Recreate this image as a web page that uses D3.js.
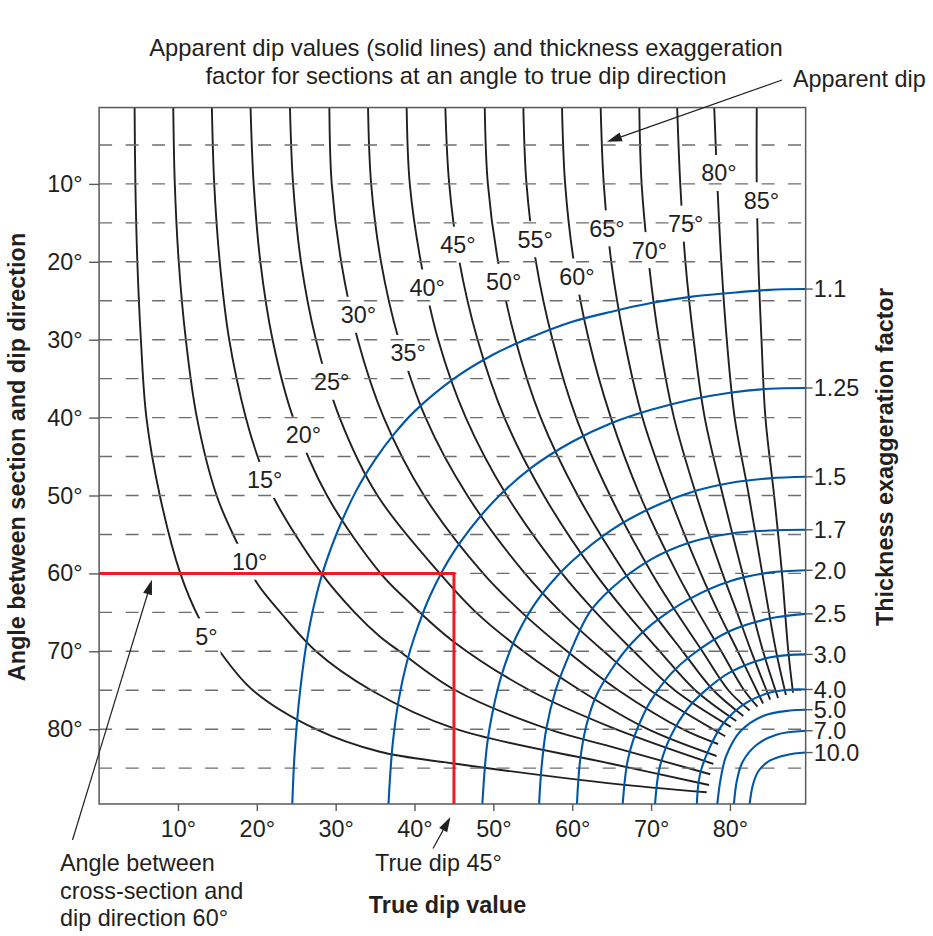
<!DOCTYPE html>
<html>
<head>
<meta charset="utf-8">
<script src="https://cdn.jsdelivr.net/npm/d3@7"></script>
<style>
  body { margin: 0; background: #ffffff; }
  svg { display: block; }
</style>
</head>
<body>
<svg id="chart" width="933" height="936"></svg>
<script>
// ---------------- DATA ----------------
// Axis tick values (degrees)
const angleTicks = [10, 20, 30, 40, 50, 60, 70, 80];
// Dashed guide levels of the section angle (degrees)
const dashLevels = [5, 10, 15, 20, 25, 30, 35, 40, 45, 50, 55, 60, 65, 70, 75, 80, 85];

// Apparent dip values (black curves)
const apparentDips = [5, 10, 15, 20, 25, 30, 35, 40, 45, 50, 55, 60, 65, 70, 75, 80, 85];
// Each curve: [angle between section and dip direction, true dip]
const dip5  = [[0,4.5],[10,4.6],[20,4.85],[30,5.3],[40,6.0],[50,7.7],[60,10.3],[66,12.8],[70,15.3],[75,19.5],[80,27.5],[82.9,35.6],[84.4,45],[86.95,64.8],[88.1,77.05]];
const dip10 = [[0,9.4],[10,9.6],[20,10.1],[30,11.0],[40,12.4],[50,14.9],[56.1,17.5],[61.2,20.0],[65,23.0],[70,27.5],[75,34.5],[79.9,45],[84.4,64.8],[87.16,77.35]];
const dip15 = [[0,14.3],[10,14.6],[20,15.3],[30,16.5],[40,18.6],[45,20.1],[50,22.0],[60,28.2],[65,32.4],[68.1,35.6],[70,38.1],[74.9,45],[80,57],[82.2,64.8],[85.78,77.5]];
const dip20 = [[0,19.2],[10,19.6],[20,20.45],[30,22.0],[40,24.6],[50,28.9],[60,35.7],[63.4,39.0],[68.8,45],[75,54.6],[79.7,64.8],[84.46,77.9]];
const dip25 = [[0,24.2],[10,24.6],[20,25.6],[30,27.5],[40,30.5],[50,35.3],[60,43.2],[65,47.8],[70,53.8],[75,61.0],[80,69.6],[83.44,78.3]];
const dip30 = [[0,29.2],[10,29.5],[20,30.7],[30,32.8],[40,36.1],[50,41.2],[60,48.7],[65,53.6],[70,59.35],[75,65.85],[80,74.0],[81.9,78.5]];
const dip35 = [[0,34.1],[10,34.5],[20,35.75],[30,38.0],[40,41.4],[50,46.7],[60,54.0],[65,58.6],[70,64.0],[75,69.9],[80.9,79.4]];
const dip40 = [[0,39.0],[10,39.4],[20,40.8],[30,43.0],[40,46.5],[50,51.7],[60,58.7],[65,63.0],[70,67.8],[75,73.0],[79.7,80.1]];
const dip45 = [[0,43.9],[10,44.4],[20,45.7],[30,48.0],[40,51.4],[50,56.4],[60,62.9],[65,66.8],[70,71.1],[75,75.6],[78.95,80.8]];
const dip50 = [[0,48.9],[10,49.3],[20,50.6],[30,52.8],[40,56.0],[50,60.7],[60,66.7],[65,70.2],[70,74.0],[75,77.9],[78.3,81.7]];
const dip55 = [[0,53.8],[10,54.2],[20,55.4],[30,57.5],[40,60.5],[50,64.8],[60,70.1],[65,73.2],[70,76.5],[75,79.8],[77.6,82.5]];
const dip60 = [[0,58.7],[10,59.1],[20,60.2],[30,62.1],[40,64.9],[50,68.6],[60,73.3],[65,76.0],[70,78.9],[75,81.8],[77.1,83.5]];
const dip65 = [[0,63.6],[10,64.0],[20,64.95],[30,66.6],[40,68.9],[50,72.3],[60,76.3],[65,78.55],[70,81.0],[76.7,84.2]];
const dip70 = [[0,68.5],[10,68.8],[20,69.7],[30,71.0],[40,72.9],[50,75.75],[60,79.05],[65,80.9],[70,82.7],[76.2,85.1]];
const dip75 = [[0,73.3],[10,73.7],[20,74.35],[30,75.4],[40,76.8],[50,79.1],[60,81.6],[70,84.2],[76.0,86.1]];
const dip80 = [[0,78.0],[10,78.4],[20,78.9],[30,79.6],[40,80.6],[50,82.4],[60,84.1],[70,85.85],[75.6,87.1]];
const dip85 = [[0,83.4],[10,83.4],[20,83.6],[30,84.0],[40,84.5],[50,85.6],[60,86.6],[70,87.4],[75.3,88.0]];
const apparentDipCurves = [dip5, dip10, dip15, dip20, dip25, dip30, dip35, dip40, dip45,
                           dip50, dip55, dip60, dip65, dip70, dip75, dip80, dip85];
// Where each apparent-dip label sits on its curve: [section angle, true dip]
const apparentDipLabelAt = [[68.1,13.6],[58.5,19.1],[48.0,21.0],[42.2,25.9],[35.4,29.5],[26.8,32.9],
                            [31.7,39.2],[23.3,41.6],[17.8,45.5],[22.6,51.3],[17.1,55.3],[21.9,60.6],
                            [15.7,64.4],[18.5,69.8],[15.1,74.4],[8.6,78.6],[12.1,84.0]];

// Thickness exaggeration factor (blue curves)
const factorLabels = ["1.1", "1.25", "1.5", "1.7", "2.0", "2.5", "3.0", "4.0", "5.0", "7.0", "10.0"];
// Each curve: [true dip, section angle]
const f1_1  = [[24.5,89.6],[24.8,83],[25.5,75],[26.5,67.8],[28,61.1],[30,55.2],[32.5,49.6],[35,45.4],[37.5,42.0],[40,39.2],[45,35.0],[50,31.9],[55,29.6],[60,27.7],[65,26.4],[70,25.3],[75,24.5],[80,24.0],[85,23.6],[89.6,23.5]];
const f1_25 = [[36.7,89.6],[37.2,82.2],[38,76.2],[39,71.5],[40,68.1],[42,62.8],[45,57.2],[50,50.8],[55,46.3],[60,43.1],[65,40.7],[70,39.0],[75,37.7],[80,36.8],[85,36.3],[89.6,36.2]];
const f1_5  = [[48.6,89.6],[49.2,82],[50,77.3],[51,73.2],[52.5,69.0],[55,64.3],[57.5,61.0],[60,58.4],[65,54.4],[70,51.6],[75,49.6],[80,48.4],[85,47.8],[89.6,47.6]];
const f1_7  = [[55.8,89.6],[56.1,85],[56.7,80],[57.9,75],[59.8,70],[62.2,65.0],[65,61.9],[70,58.2],[75,56.0],[80,54.9],[85,54.5],[89.6,54.4]];
const f2_0  = [[60.6,89.6],[61.0,84],[61.8,79.5],[63,75.8],[65,72.3],[67.5,69.0],[70,66.6],[75,63.2],[80,61.0],[85,59.9],[89.6,59.6]];
const f2_5  = [[66.4,89.6],[67,84.2],[68,80.6],[69,78.2],[70,76.3],[72.5,72.9],[75,70.6],[80,67.4],[85,65.8],[89.6,65.2]];
const f3_0  = [[70.5,89.6],[71,85.3],[72,82.0],[73,79.9],[75,76.9],[77.5,74.5],[80,72.7],[85,70.8],[89.6,70.4]];
const f4_0  = [[75.8,89.6],[76.2,85.8],[77.5,82.2],[79.2,79.2],[82.1,76.6],[85.1,75.3],[88,74.9],[89.6,74.9]];
const f5_0  = [[78.4,89.6],[78.8,86.5],[79.5,83.5],[81.3,80.3],[84.2,78.3],[87.6,77.6],[89.6,77.5]];
const f7_0  = [[80.5,89.6],[80.9,86.5],[81.6,84.2],[83.4,82.0],[85.9,80.7],[89.6,80.2]];
const f10_0 = [[82.5,89.6],[82.9,87.2],[83.6,85.4],[85.1,84.0],[87.2,83.3],[89.6,83.0]];
const factorCurves = [f1_1, f1_25, f1_5, f1_7, f2_0, f2_5, f3_0, f4_0, f5_0, f7_0, f10_0];

// Worked example: true dip 45°, section at 60° to dip direction
const exampleDip = 45;
const exampleAngle = 60;

// ---------------- DRAWING ----------------
const FONT = "'Liberation Sans', Arial, Helvetica, sans-serif";
const FS = 23.4;
const INK = "#231f20";
const FRAME = "#58595b";
const BLUE = "#0057a6";
const RED = "#ed1c24";

const svg = d3.select("#chart");
const x = d3.scaleLinear().domain([0, 90]).range([99.1, 808.8]);
const y = d3.scaleLinear().domain([0, 90]).range([106, 807.1]);
const EDGE = 89.6, TOPV = 0.2;

svg.append("defs").append("clipPath").attr("id", "plotclip")
  .append("rect")
  .attr("x", x(0)).attr("y", y(TOPV))
  .attr("width", x(EDGE) - x(0)).attr("height", y(EDGE) - y(TOPV));

const plot = svg.append("g").attr("clip-path", "url(#plotclip)");

// black apparent-dip curves
const blackLine = d3.line().x(d => x(d[1])).y(d => y(d[0])).curve(d3.curveCatmullRom.alpha(0.5));
plot.append("g").selectAll("path").data(apparentDipCurves).join("path")
  .attr("d", blackLine).attr("fill", "none").attr("stroke", INK).attr("stroke-width", 1.9);

// label gaps (filled in when labels are measured)
const maskG = plot.append("g");

// dashed guide lines
plot.append("g").selectAll("line").data(dashLevels).join("line")
  .attr("x1", x(0)).attr("x2", x(EDGE))
  .attr("y1", d => y(d)).attr("y2", d => y(d))
  .attr("stroke", "#6d6e71").attr("stroke-width", 1.4).attr("stroke-dasharray", "13,13.5");

// blue thickness curves
const blueLine = d3.line().x(d => x(d[0])).y(d => y(d[1])).curve(d3.curveCatmullRom.alpha(0.5));
plot.append("g").selectAll("path").data(factorCurves).join("path")
  .attr("d", blueLine).attr("fill", "none").attr("stroke", BLUE).attr("stroke-width", 2.1);

// red worked example
plot.append("path")
  .attr("d", `M${x(0)},${y(exampleAngle)}H${x(exampleDip)}V${y(EDGE)}`)
  .attr("fill", "none").attr("stroke", RED).attr("stroke-width", 3);

// frame
svg.append("rect")
  .attr("x", x(0)).attr("y", y(TOPV))
  .attr("width", x(EDGE) - x(0)).attr("height", y(EDGE) - y(TOPV))
  .attr("fill", "none").attr("stroke", FRAME).attr("stroke-width", 1.5);

// curve labels
const labelG = svg.append("g").attr("font-family", FONT).attr("font-size", FS).attr("fill", INK);
apparentDips.forEach((v, i) => {
  const p = apparentDipLabelAt[i];
  const t = labelG.append("text")
    .attr("x", x(p[1])).attr("y", y(p[0])).attr("dy", "0.36em")
    .attr("text-anchor", "middle").text(v + "°");
  const w = t.node().getComputedTextLength();
  maskG.append("rect")
    .attr("x", x(p[1]) - w / 2 - 3).attr("y", y(p[0]) - 18)
    .attr("width", w + 6).attr("height", 36).attr("fill", "#ffffff");
});

// left axis
const gy = svg.append("g").attr("transform", `translate(${x(0)},0)`)
  .call(d3.axisLeft(y).tickValues(angleTicks).tickFormat(d => d + "°").tickSize(10).tickPadding(6.5));
gy.select(".domain").remove();
gy.attr("font-family", FONT).attr("font-size", FS);
gy.selectAll("line").attr("stroke", FRAME).attr("stroke-width", 1.4);
gy.selectAll("text").attr("fill", INK);

// bottom axis
const gx = svg.append("g").attr("transform", `translate(0,${y(EDGE)})`)
  .call(d3.axisBottom(x).tickValues(angleTicks).tickFormat(d => d + "°").tickSize(7).tickPadding(9.5));
gx.select(".domain").remove();
gx.attr("font-family", FONT).attr("font-size", FS);
gx.selectAll("line").attr("stroke", FRAME).attr("stroke-width", 1.4);
gx.selectAll("text").attr("fill", INK);

// right side factor ticks + labels
const rg = svg.append("g").attr("font-family", FONT).attr("font-size", FS).attr("fill", INK);
factorCurves.forEach((c, i) => {
  const yy = y(c[c.length - 1][1]);
  rg.append("line").attr("x1", x(EDGE)).attr("x2", x(EDGE) + 7)
    .attr("y1", yy).attr("y2", yy).attr("stroke", FRAME).attr("stroke-width", 1.4);
  rg.append("text").attr("x", x(EDGE) + 8).attr("y", yy).attr("dy", "0.36em").text(factorLabels[i]);
});

// titles
const tg = svg.append("g").attr("font-family", FONT).attr("fill", INK);
tg.append("text").attr("x", 466).attr("y", 55.5).attr("text-anchor", "middle").attr("font-size", 23.8)
  .text("Apparent dip values (solid lines) and thickness exaggeration");
tg.append("text").attr("x", 466).attr("y", 83.5).attr("text-anchor", "middle").attr("font-size", 23.8)
  .text("factor for sections at an angle to true dip direction");

tg.append("text").attr("transform", "translate(25,457) rotate(-90)").attr("text-anchor", "middle")
  .attr("font-size", FS).attr("font-weight", "bold").text("Angle between section and dip direction");
tg.append("text").attr("transform", "translate(893,457) rotate(-90)").attr("text-anchor", "middle")
  .attr("font-size", FS).attr("font-weight", "bold").text("Thickness exaggeration factor");
tg.append("text").attr("x", 447.5).attr("y", 913).attr("text-anchor", "middle")
  .attr("font-size", FS).attr("font-weight", "bold").text("True dip value");

// annotations
const ag = svg.append("g").attr("font-family", FONT).attr("font-size", FS).attr("fill", INK);
ag.append("text").attr("x", 793).attr("y", 86.5).text("Apparent dip");
ag.append("text").attr("x", 375).attr("y", 871).text("True dip 45°");
["Angle between", "cross-section and", "dip direction 60°"].forEach((s, i) => {
  ag.append("text").attr("x", 60).attr("y", 871 + i * 27.5).text(s);
});

function arrow(x1, y1, x2, y2) {
  const ang = Math.atan2(y2 - y1, x2 - x1);
  const L = 15, Wd = 4.6;
  const bx = x2 - L * Math.cos(ang), by = y2 - L * Math.sin(ang);
  const nx = -Math.sin(ang) * Wd, ny = Math.cos(ang) * Wd;
  ag.append("line").attr("x1", x1).attr("y1", y1).attr("x2", bx).attr("y2", by)
    .attr("stroke", INK).attr("stroke-width", 1.2);
  ag.append("path").attr("d", `M${x2},${y2}L${bx + nx},${by + ny}L${bx - nx},${by - ny}Z`).attr("fill", INK);
}
arrow(782, 80, x(64.4), y(4.6));
arrow(72.5, 840, x(6.7), y(60.8));
arrow(433, 848.5, x(exampleDip) - 3.5, y(EDGE) + 13);
</script>
</body>
</html>
